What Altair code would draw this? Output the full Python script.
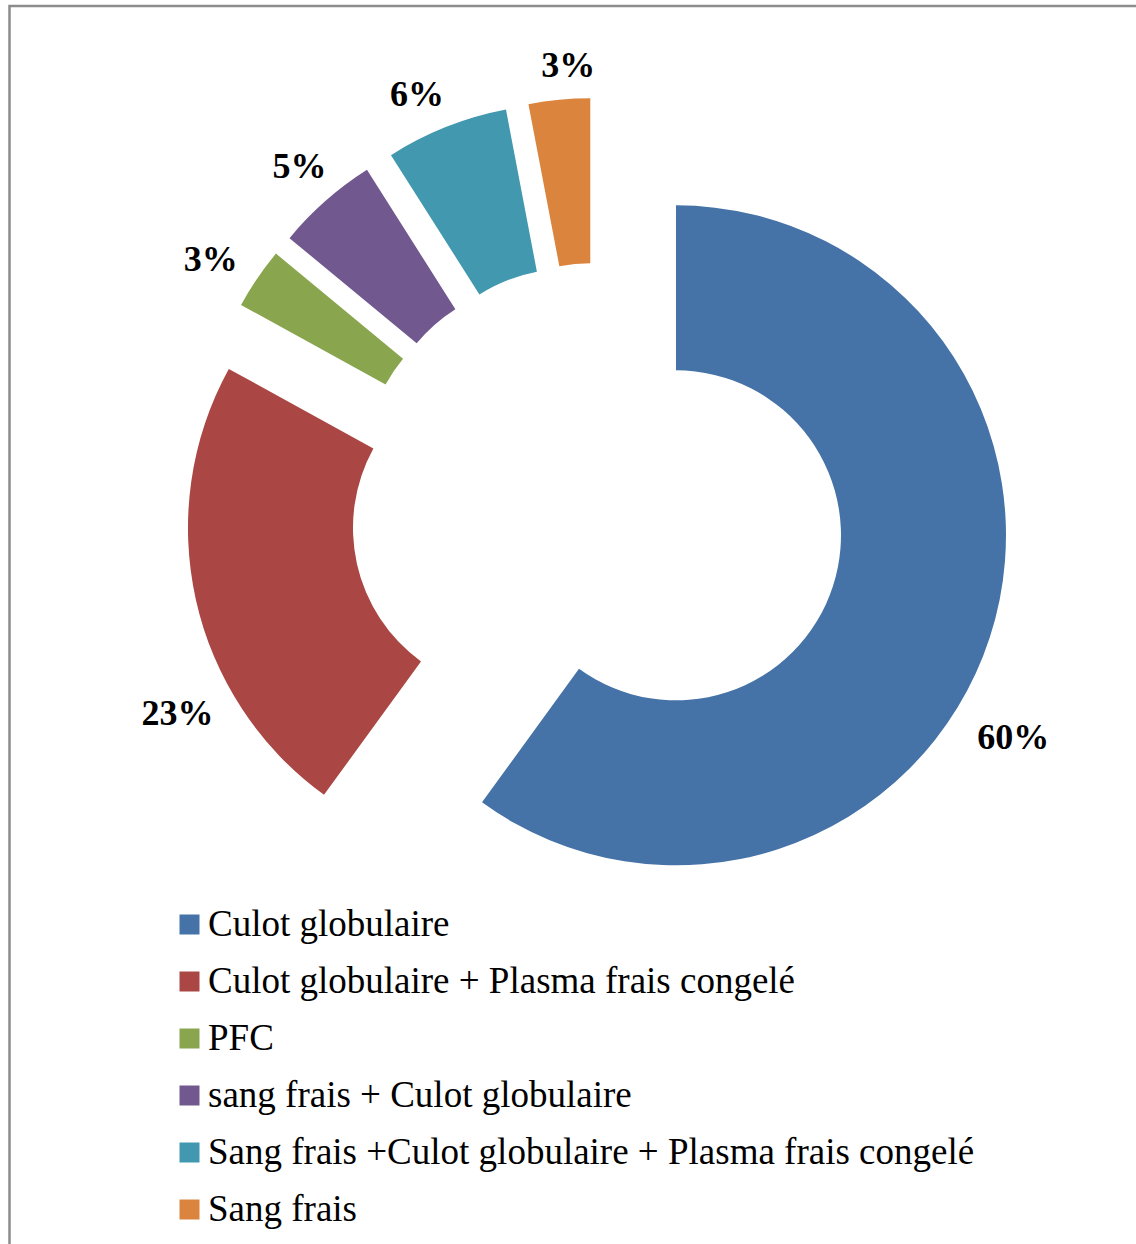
import math
import altair as alt
import pandas as pd

categories = [
    "Culot globulaire",
    "Culot globulaire + Plasma frais congelé",
    "PFC",
    "sang frais + Culot globulaire",
    "Sang frais +Culot globulaire + Plasma frais congelé",
    "Sang frais",
]
shares = [60, 23, 3, 5, 6, 3]
pct_labels = ["60%", "23%", "3%", "5%", "6%", "3%"]
palette = ["#4572A7", "#AA4643", "#89A54E", "#71588F", "#4198AF", "#DB843D"]

# Donut geometry (pixels)
CX, CY = 598, 510
EXPLODE = 82
R_IN, R_OUT = 165, 330
LABEL_GAP = 16
# small per-label adjustments along the ring (degrees) and outward (pixels)
LABEL_TURN = {categories[0]: 13, categories[1]: -16, categories[2]: -1.7,
              categories[3]: 0.5, categories[4]: -2.4, categories[5]: 1.9}
LABEL_PUSH = {categories[0]: 9, categories[1]: 3, categories[2]: 2, categories[3]: -2}

rows = []
total = sum(shares)
cum = 0
for cat, val, lab in zip(categories, shares, pct_labels):
    t0 = cum / total * 2 * math.pi
    cum += val
    t1 = cum / total * 2 * math.pi
    mid = (t0 + t1) / 2
    sx = CX + EXPLODE * math.sin(mid)
    sy = CY - EXPLODE * math.cos(mid)
    la = mid + math.radians(LABEL_TURN.get(cat, 0))
    half_w = 9 * len(lab) + 9
    half_h = 15
    lr = (R_OUT + LABEL_GAP + half_w * abs(math.sin(la)) + half_h * abs(math.cos(la))
          + LABEL_PUSH.get(cat, 0))
    rows.append({
        "category": cat, "share": val, "label": lab,
        "t0": t0, "t1": t1,
        "sx": sx, "sy": sy,
        "lx": sx + lr * math.sin(la), "ly": sy - lr * math.cos(la),
    })
df = pd.DataFrame(rows)

color = alt.Color(
    "category:N",
    scale=alt.Scale(domain=categories, range=palette),
    sort=categories,
    legend=alt.Legend(
        title=None,
        orient="none",
        legendX=171,
        legendY=906,
        symbolType="square",
        symbolSize=400,
        symbolStrokeWidth=0,
        symbolOpacity=1,
        labelFont="Liberation Serif",
        labelFontSize=37,
        labelColor="#000000",
        labelOffset=0,
        labelLimit=1000,
        rowPadding=19,
        padding=0,
        direction="vertical",
    ),
)

arcs = alt.Chart(df).mark_arc(innerRadius=R_IN, outerRadius=R_OUT, stroke=None).encode(
    x=alt.X("sx:Q", scale=None, axis=None),
    y=alt.Y("sy:Q", scale=None, axis=None),
    theta=alt.Theta("t0:Q", scale=None),
    theta2="t1:Q",
    color=color,
)

texts = alt.Chart(df).mark_text(
    font="Liberation Serif", fontSize=36, fontWeight="bold", color="#000000",
    align="center", baseline="middle",
).encode(
    x=alt.X("lx:Q", scale=None, axis=None),
    y=alt.Y("ly:Q", scale=None, axis=None),
    text="label:N",
)

frame = alt.Chart(pd.DataFrame({"k": [0]})).mark_rect(
    fill=None, stroke="#8c8c8c", strokeWidth=2.5
).encode(
    x=alt.value(9.5), x2=alt.value(1150),
    y=alt.value(6), y2=alt.value(1260),
)

chart = alt.layer(frame, arcs, texts).properties(
    width=1136, height=1244,
    autosize=alt.AutoSizeParams(type="none"),
    padding=0,
    background="#ffffff",
).configure_view(stroke=None)

chart.save("out.html", embed_options={"renderer": "svg", "actions": False})
